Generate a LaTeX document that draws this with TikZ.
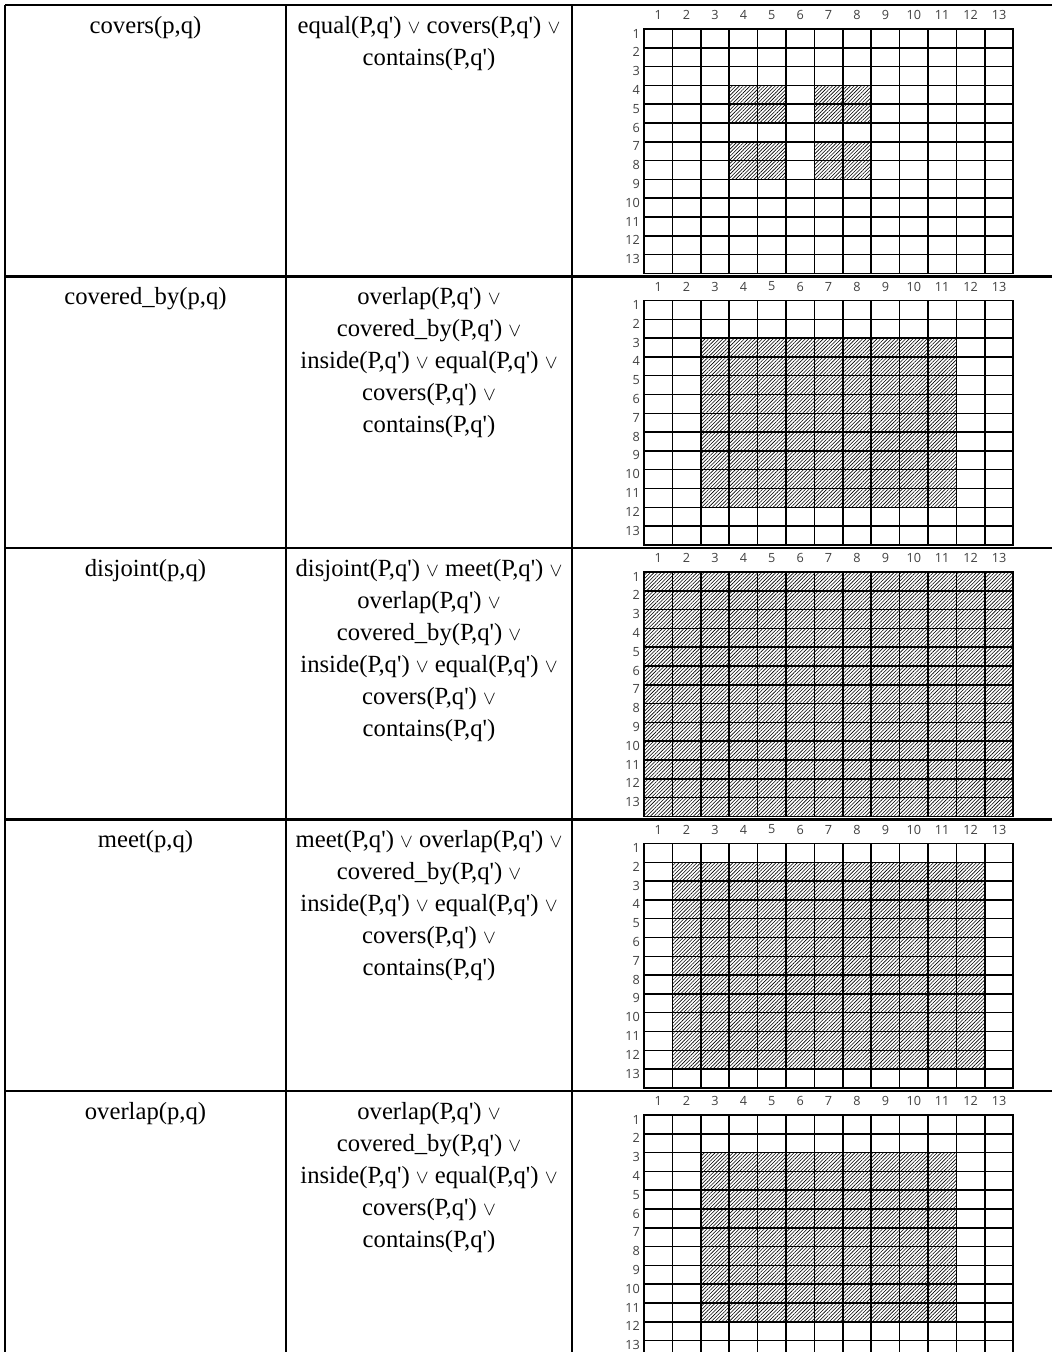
\documentclass[tikz,border=0pt]{standalone}
\usepackage{fontspec}
\setmainfont{Liberation Serif}
\newfontfamily\numfont{Open Sans}
\usepackage{tikz}
\usetikzlibrary{positioning,patterns.meta}
\tikzset {
    style T/.style={
        anchor=north,
        inner sep=0pt,
        align=center, % Center every line of the cell
        font=\fontsize{18.5}{24}\selectfont,
    },
    style N/.style={
        inner sep=0pt,
        text=black!75,
        font=\numfont\fontsize{9.5}{9.5}\selectfont,
    },
    style H/.style={
        pattern={Lines[angle=45,distance=1.9pt,line width=0.45pt]},
    },
    style G/.style={
        draw=black,
        line width=1.1pt,
        line cap=rect,
    },
    style L/.style={
        draw=black,
        line width=2pt,
    },
}
\newcommand{\orsym}{{\fontsize{14.5}{14.5}\selectfont$\vee$}}
\newcommand{\qq}{q\textquotesingle}
% #1 = top of the table row, #2 = prefix of the node names
\newcommand{\relgrid}[2]{
    \foreach \i in {0,...,13} {
        \draw[style G] ({644+28.4*\i},{#1+24}) -- ({644+28.4*\i},{#1+24+244.4});
        \draw[style G] (644,{#1+24+18.8*\i}) -- (1013.2,{#1+24+18.8*\i});
    }
    \foreach \i in {1,...,13} {
        \node[style N] (#2c\i) at ({644+28.4*(\i-0.5)},{#1+10}) {\i};
        \node[style N, anchor=east] (#2r\i) at (640,{#1+24+18.8*(\i-1)+4.5}) {\i};
    }
}
% #1 = top of the table row, #2-#3 = columns, #4-#5 = rows
\newcommand{\hatchcells}[5]{
    \fill[style H] ({644+28.4*(#2-1)},{#1+24+18.8*(#4-1)}) rectangle ({644+28.4*#3},{#1+24+18.8*#5});
}

\begin{document}
\begin{tikzpicture}[x=0.75pt, y=-0.75pt]
        \useasboundingbox (0,0) rectangle (1052,1352);

        % table rules
        \draw[style L] (5,5) -- (5,1352);
        \draw[style L] (286,5) -- (286,1352);
        \draw[style L] (572,5) -- (572,1352);
        \foreach \y in {5,276.5,548,819.5,1091} {
            \draw[style L] (5,\y) -- (1052,\y);
        }

        % covers
        \node[style T] at (145.5,16) (rel1) {covers(p,q)};
        \node[style T] at (429,16) (cond1) {equal(P,\qq) \orsym{} covers(P,\qq) \orsym\\ contains(P,\qq)};
        \hatchcells{5}{4}{5}{4}{5}
        \hatchcells{5}{7}{8}{4}{5}
        \hatchcells{5}{4}{5}{7}{8}
        \hatchcells{5}{7}{8}{7}{8}
        \relgrid{5}{a}

        % covered_by
        \node[style T] at (145.5,287.5) (rel2) {covered\_by(p,q)};
        \node[style T] at (429,287.5) (cond2) {overlap(P,\qq) \orsym\\ covered\_by(P,\qq) \orsym\\
            inside(P,\qq) \orsym{} equal(P,\qq) \orsym\\ covers(P,\qq) \orsym\\ contains(P,\qq)};
        \hatchcells{276.5}{3}{11}{3}{11}
        \relgrid{276.5}{b}

        % disjoint
        \node[style T] at (145.5,559) (rel3) {disjoint(p,q)};
        \node[style T] at (429,559) (cond3) {disjoint(P,\qq) \orsym{} meet(P,\qq) \orsym\\ overlap(P,\qq) \orsym\\
            covered\_by(P,\qq) \orsym\\ inside(P,\qq) \orsym{} equal(P,\qq) \orsym\\ covers(P,\qq) \orsym\\ contains(P,\qq)};
        \hatchcells{548}{1}{13}{1}{13}
        \relgrid{548}{c}

        % meet
        \node[style T] at (145.5,830.5) (rel4) {meet(p,q)};
        \node[style T] at (429,830.5) (cond4) {meet(P,\qq) \orsym{} overlap(P,\qq) \orsym\\ covered\_by(P,\qq) \orsym\\
            inside(P,\qq) \orsym{} equal(P,\qq) \orsym\\ covers(P,\qq) \orsym\\ contains(P,\qq)};
        \hatchcells{819.5}{2}{12}{2}{12}
        \relgrid{819.5}{d}

        % overlap
        \node[style T] at (145.5,1102) (rel5) {overlap(p,q)};
        \node[style T] at (429,1102) (cond5) {overlap(P,\qq) \orsym\\ covered\_by(P,\qq) \orsym\\
            inside(P,\qq) \orsym{} equal(P,\qq) \orsym\\ covers(P,\qq) \orsym\\ contains(P,\qq)};
        \hatchcells{1091}{3}{11}{3}{11}
        \relgrid{1091}{e}
    \end{tikzpicture}
\end{document}
